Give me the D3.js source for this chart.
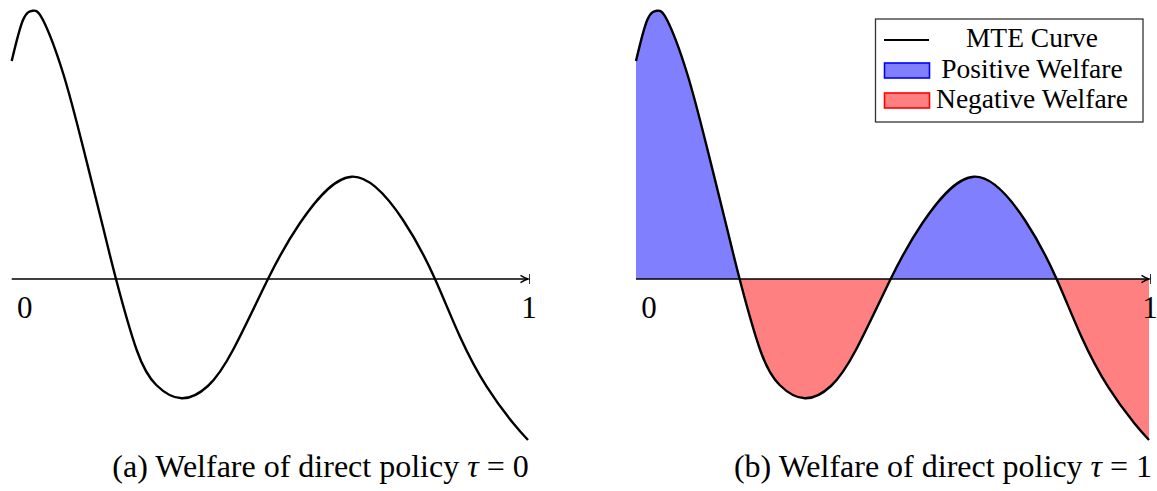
<!DOCTYPE html>
<html>
<head>
<meta charset="utf-8">
<script src="https://cdn.jsdelivr.net/npm/d3@7"></script>
<style>
  body { margin: 0; background: #fff; }
  text { font-family: "Liberation Serif", "DejaVu Serif", serif; }
</style>
</head>
<body>
<svg id="chart" width="1157" height="491"></svg>
<script>
// MTE curve: u in [0,1], value (axis at 0)
var uVals = [0, 0.0219, 0.0407, 0.0606, 0.0994, 0.1381, 0.1768, 0.2020,
             0.2421, 0.2800, 0.3293, 0.3800, 0.4286, 0.4964,
             0.5584, 0.6585, 0.7579, 0.8199,
             0.8683, 0.9200, 0.9710, 1.0];
var mteVals = [2.18, 2.59, 2.683, 2.59, 2.06, 1.32, 0.52, 0,
               -0.71, -1.06, -1.193, -1.07, -0.71, 0,
               0.56, 1.023, 0.59, 0,
               -0.577, -1.077, -1.44, -1.61];
var tickLabels = ["0", "1"];
var captions = ["(a) Welfare of direct policy ", "(b) Welfare of direct policy "];
var captionTau = ["0", "1"];
var legendLabels = ["MTE Curve", "Positive Welfare", "Negative Welfare"];

var data = uVals.map(function(u, i) { return {u: u, v: mteVals[i]}; });

var svg = d3.select("#chart");

var yScale = d3.scaleLinear().domain([-1.61, 2.68]).range([440, 11]);

var panels = [
  {x0: 11.7, x1: 528, fill: false, capX: 320.5},
  {x0: 636, x1: 1149, fill: true, capX: 943}
];

panels.forEach(function(p, k) {
  var xScale = d3.scaleLinear().domain([0, 1]).range([p.x0, p.x1]);
  var g = svg.append("g");
  var y0 = yScale(0);

  if (p.fill) {
    var area = d3.area()
      .x(function(d) { return xScale(d.u); })
      .y0(y0)
      .y1(function(d) { return yScale(d.v); })
      .curve(d3.curveNatural);

    var defs = svg.append("defs");
    defs.append("clipPath").attr("id", "clipPos")
      .append("rect").attr("x", p.x0 - 2).attr("y", 0).attr("width", p.x1 - p.x0 + 4).attr("height", y0);
    defs.append("clipPath").attr("id", "clipNeg")
      .append("rect").attr("x", p.x0 - 2).attr("y", y0).attr("width", p.x1 - p.x0 + 4).attr("height", 491 - y0);

    g.append("path").datum(data)
      .attr("d", area)
      .attr("fill", "#8080ff")
      .attr("clip-path", "url(#clipPos)");
    g.append("path").datum(data)
      .attr("d", area)
      .attr("fill", "#ff8080")
      .attr("clip-path", "url(#clipNeg)");
  }

  // x axis with arrow
  var xe = xScale(1);
  g.append("line")
    .attr("x1", xScale(0)).attr("x2", xe)
    .attr("y1", y0).attr("y2", y0)
    .attr("stroke", "#000").attr("stroke-width", 1.3);
  g.append("path")
    .attr("d", "M" + (xe - 7.5) + "," + (y0 - 3.6) + " Q" + (xe - 3) + "," + (y0 - 0.8) + " " + xe + "," + y0 +
               " Q" + (xe - 3) + "," + (y0 + 0.8) + " " + (xe - 7.5) + "," + (y0 + 3.6))
    .attr("fill", "none").attr("stroke", "#000").attr("stroke-width", 1.3);
  g.append("line")
    .attr("x1", xe + 1.5).attr("x2", xe + 1.5)
    .attr("y1", y0 - 5).attr("y2", y0 + 5)
    .attr("stroke", "#000").attr("stroke-width", 0.8);

  // curve
  var line = d3.line()
    .x(function(d) { return xScale(d.u); })
    .y(function(d) { return yScale(d.v); })
    .curve(d3.curveNatural);
  g.append("path").datum(data)
    .attr("d", line)
    .attr("fill", "none")
    .attr("stroke", "#000")
    .attr("stroke-width", 2.4)
    .attr("stroke-linejoin", "round");

  // tick labels
  g.append("text").attr("x", xScale(0) + 13).attr("y", 318)
    .attr("text-anchor", "middle").style("font-size", "31px").text(tickLabels[0]);
  g.append("text").attr("x", xScale(1) + 1).attr("y", 318)
    .attr("text-anchor", "middle").style("font-size", "31px").text(tickLabels[1]);

  // caption
  var cap = g.append("text").attr("x", p.capX).attr("y", 477)
    .attr("text-anchor", "middle").style("font-size", "32px");
  cap.append("tspan").text(captions[k]);
  cap.append("tspan").style("font-style", "italic").text("\u03C4");
  cap.append("tspan").attr("dx", 8).text("=");
  cap.append("tspan").attr("dx", 8).text(captionTau[k]);
});

// legend
var lg = svg.append("g");
lg.append("rect")
  .attr("x", 875.5).attr("y", 19).attr("width", 267.5).attr("height", 103)
  .attr("fill", "#fff").attr("stroke", "#333").attr("stroke-width", 1.3);
lg.append("line")
  .attr("x1", 884).attr("x2", 929).attr("y1", 40).attr("y2", 40)
  .attr("stroke", "#000").attr("stroke-width", 2.2);
lg.append("rect")
  .attr("x", 884.5).attr("y", 63).attr("width", 45).attr("height", 15)
  .attr("fill", "#8080ff").attr("stroke", "#0000ff").attr("stroke-width", 1.6);
lg.append("rect")
  .attr("x", 884.5).attr("y", 93).attr("width", 45).attr("height", 15)
  .attr("fill", "#ff8080").attr("stroke", "#ff0000").attr("stroke-width", 1.6);
lg.selectAll(".lgtext")
  .data(legendLabels)
  .enter().append("text")
    .attr("class", "lgtext")
    .attr("x", 1032)
    .attr("y", function(d, i) { return 47 + i * 30.5; })
    .attr("text-anchor", "middle")
    .style("font-size", "27.5px")
    .text(function(d) { return d; });
</script>
</body>
</html>
